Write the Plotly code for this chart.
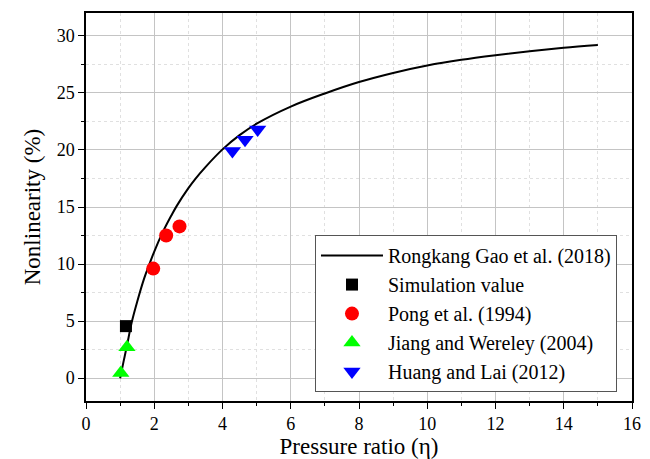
import plotly.graph_objects as go

# Model curve
curve_x = [1.0, 1.1, 1.2, 1.34, 1.5, 1.7, 1.86, 2.0, 2.25, 2.5, 2.66, 3.0, 3.2, 3.5, 4.0, 4.5,
           5, 6, 7, 8, 9, 10, 11, 12, 13, 14, 15]
curve_y = [0, 1.45, 2.85, 4.9, 6.7, 8.7, 10.0, 11.1, 12.8, 14.25, 15.1, 16.65, 17.45, 18.5, 20.05, 21.3,
           22.3, 23.8, 24.95, 25.95, 26.75, 27.4, 27.9, 28.3, 28.65, 28.95, 29.2]

sim_x = [1.17]
sim_y = [4.56]

pong_x = [1.97, 2.35, 2.74]
pong_y = [9.6, 12.5, 13.3]

jiang_x = [1.02, 1.2]
jiang_y = [0.45, 2.7]

huang_x = [4.29, 4.66, 5.03]
huang_y = [19.9, 20.9, 21.8]

FONT = "Liberation Serif, Times New Roman, serif"

fig = go.Figure()
fig.add_trace(go.Scatter(x=curve_x, y=curve_y, mode="lines", line=dict(color="black", width=2, shape="spline"),
                         name="Rongkang Gao et al. (2018)"))
fig.add_trace(go.Scatter(x=sim_x, y=sim_y, mode="markers",
                         marker=dict(symbol="square", size=12, color="black"), name="Simulation value"))
fig.add_trace(go.Scatter(x=pong_x, y=pong_y, mode="markers",
                         marker=dict(symbol="circle", size=14, color="#ff0000"), name="Pong et al. (1994)"))
fig.add_trace(go.Scatter(x=jiang_x, y=jiang_y, mode="markers",
                         marker=dict(symbol="triangle-up", size=15, color="#00ff00"), name="Jiang and Wereley (2004)"))
fig.add_trace(go.Scatter(x=huang_x, y=huang_y, mode="markers",
                         marker=dict(symbol="triangle-down", size=15, color="#0000ff"), name="Huang and Lai (2012)"))

axis_common = dict(
    showline=True, linecolor="black", linewidth=1.5, mirror=True,
    ticks="outside", ticklen=6, tickwidth=1.2, tickcolor="black",
    showgrid=True, gridcolor="#c4c4c4", gridwidth=1,
    zeroline=False,
    tickfont=dict(family=FONT, size=18, color="black"),
)

fig.update_xaxes(range=[0, 16], tickmode="linear", tick0=0, dtick=2,
                 minor=dict(dtick=1, ticks="outside", ticklen=3, tickcolor="black",
                            showgrid=True, gridcolor="#e0e0e0", griddash="dot", gridwidth=1),
                 title=dict(text="Pressure ratio (η)", font=dict(family=FONT, size=23, color="black"), standoff=6),
                 **axis_common)
fig.update_yaxes(range=[-2, 32], tickmode="linear", tick0=0, dtick=5,
                 minor=dict(dtick=2.5, ticks="outside", ticklen=3, tickcolor="black",
                            showgrid=True, gridcolor="#e0e0e0", griddash="dot", gridwidth=1),
                 title=dict(text="Nonlinearity (%)", font=dict(family=FONT, size=23, color="black"), standoff=10),
                 **axis_common)

fig.update_layout(
    width=650, height=459,
    margin=dict(l=86, r=18, t=13, b=58, autoexpand=False),
    paper_bgcolor="white", plot_bgcolor="white",
    font=dict(family=FONT, color="black"),
    legend=dict(x=0.9725, y=0.023, xanchor="right", yanchor="bottom",
                bgcolor="white", bordercolor="#555555", borderwidth=1,
                font=dict(family=FONT, size=20, color="black"),
                itemwidth=62, tracegroupgap=0),
    showlegend=True,
)

fig.write_html("out.html")
